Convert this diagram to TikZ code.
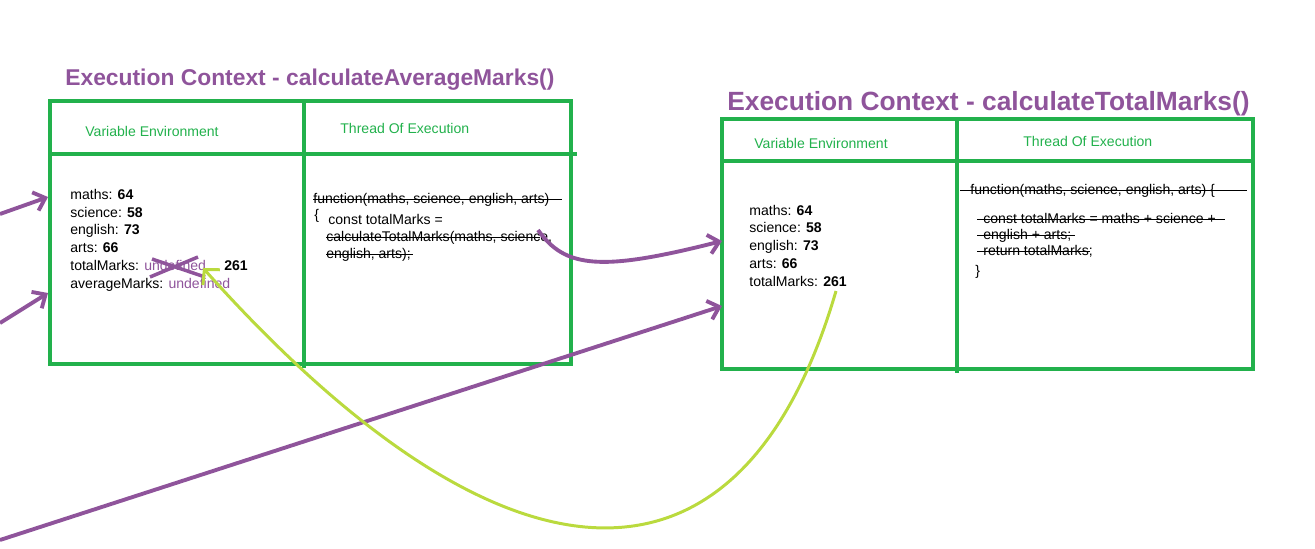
\documentclass[tikz,border=0pt]{standalone}
\usepackage{fontspec}
\setmainfont{Liberation Sans}
\usetikzlibrary{arrows.meta}

\definecolor{ecgreen}{RGB}{34,177,76}
\definecolor{ecpurple}{RGB}{143,84,155}
\definecolor{eclime}{RGB}{186,218,62}

\tikzset{
  ectitle/.style={anchor=west, inner sep=0, text=ecpurple, font=\fontsize{13}{15}\selectfont\bfseries},
  echead/.style={anchor=west, inner sep=0, text=ecgreen, font=\fontsize{8}{9}\selectfont},
  ectext/.style={anchor=base west, inner sep=0, font=\fontsize{8}{9}\selectfont},
  ecbox/.style={draw=ecgreen, line width=2.4pt},
  strikeline/.style={black, line width=0.5pt},
  callarrow/.style={draw=ecpurple, line width=2.2pt, -{Straight Barb[length=6pt,width=11pt]}},
  retarrow/.style={draw=eclime, line width=1.7pt, -{Straight Barb[length=6pt,width=13pt]}},
}

\begin{document}
\begin{tikzpicture}[x=0.02cm, y=-0.02cm]
\useasboundingbox (0,0) rectangle (1315,548);

% calculateAverageMarks()
\node[ectitle] (titleavg) at (65,80) {Execution Context - calculateAverageMarks()};
\draw[ecbox] (50,101) rectangle (571,364);
\draw[ecbox] (50,154) -- (577,154);
\draw[ecbox] (304,101) -- (304,368);
\node[echead] (varavg) at (85,131) {Variable Environment};
\node[echead] (thravg) at (340,128) {Thread Of Execution};

\node[ectext] (mathsavg) at (70,199) {maths: \textbf{64}};
\node[ectext] (scienceavg) at (70,217) {science: \textbf{58}};
\node[ectext] (englishavg) at (70,234) {english: \textbf{73}};
\node[ectext] (artsavg) at (70,252) {arts: \textbf{66}};
\node[ectext] (totalavg) at (70,270) {totalMarks: \textcolor{ecpurple}{undefined}};
\node[ectext] (averageavg) at (70,288) {averageMarks: \textcolor{ecpurple}{undefined}};
\node[ectext] (valavg) at (224,270) {\textbf{261}};

\node[ectext] (fnavg) at (313,203) {function(maths, science, english, arts)};
\node[ectext] (bravg) at (314,219) {\{};
\node[ectext] (constavg) at (328,224) {const totalMarks =};
\node[ectext] (callavg) at (326,241) {calculateTotalMarks(maths, science,};
\node[ectext] (argsavg) at (326,258) {english, arts);};
\draw[strikeline] (313,199) -- (562,199);
\draw[strikeline] (326,237) -- (540,237);
\draw[strikeline] (326,254) -- (413,254);

% calculateTotalMarks()
\node[ectitle, font=\fontsize{15}{17}\selectfont\bfseries] (titletot) at (727,104) {Execution Context - calculateTotalMarks()};
\draw[ecbox] (722,119) rectangle (1253,369);
\draw[ecbox] (722,161) -- (1253,161);
\draw[ecbox] (957,119) -- (957,373);
\node[echead] (vartot) at (754,143) {Variable Environment};
\node[echead] (thrtot) at (1023,141) {Thread Of Execution};

\node[ectext] (mathstot) at (749,215) {maths: \textbf{64}};
\node[ectext] (sciencetot) at (749,232) {science: \textbf{58}};
\node[ectext] (englishtot) at (749,250) {english: \textbf{73}};
\node[ectext] (artstot) at (749,268) {arts: \textbf{66}};
\node[ectext] (totaltot) at (749,286) {totalMarks: \textbf{261}};

\node[ectext] (fntot) at (970,194) {function(maths, science, english, arts) \{};
\node[ectext] (consttot) at (983,223) {const totalMarks = maths + science +};
\node[ectext] (englishline) at (983,239) {english + arts;};
\node[ectext] (returntot) at (983,255) {return totalMarks;};
\node[ectext] (closetot) at (975,275) {\}};
\draw[strikeline] (960,190) -- (1247,190);
\draw[strikeline] (977,219) -- (1225,219);
\draw[strikeline] (977,235) -- (1075,235);
\draw[strikeline] (977,251) -- (1090,251);

% connectors
\coordinate (inA) at (0,214);
\coordinate (inB) at (0,323);
\coordinate (inC) at (0,540);
\coordinate (envavgA) at (48,197);
\coordinate (envavgB) at (48,293);
\coordinate (callpt) at (538,230);
\coordinate (envtotA) at (722,241);
\coordinate (envtotB) at (722,306);
\coordinate (retpt) at (836,291);
\coordinate (undefpt) at (203,268);

\draw[callarrow] (inA) -- (envavgA);
\draw[callarrow] (inB) -- (envavgB);
\draw[callarrow] (inC) -- (envtotB);
\draw[callarrow] (callpt) .. controls (565,268) and (600,272) .. (envtotA);
\draw[ecpurple, line width=2pt] (152,259) -- (205,277) (150,277) -- (198,257);
\draw[retarrow] (retpt) .. controls (740,620) and (500,600) .. (undefpt);
\end{tikzpicture}
\end{document}
